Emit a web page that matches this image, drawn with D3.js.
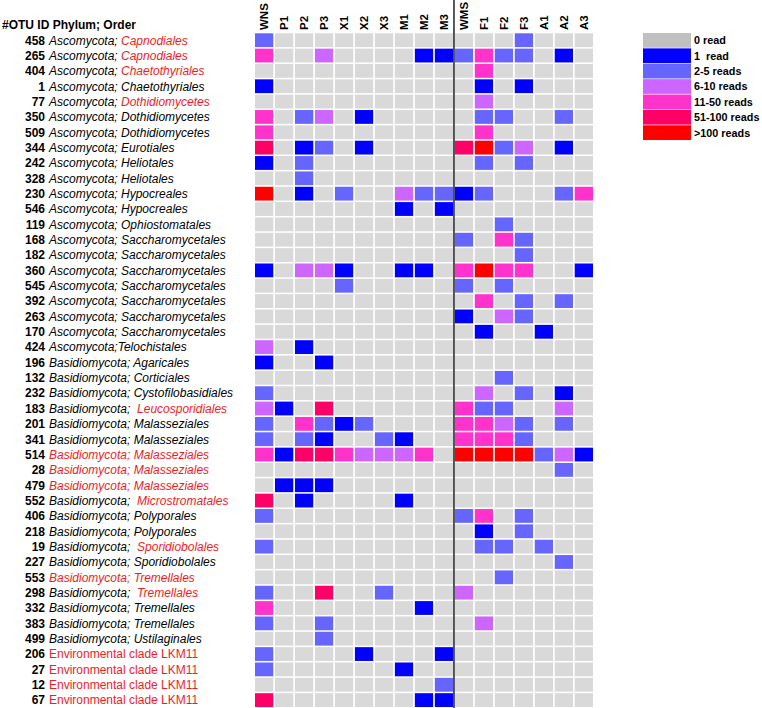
<!DOCTYPE html>
<html>
<head>
<meta charset="utf-8">
<script src="https://cdn.jsdelivr.net/npm/d3@7"></script>
<style>
  html, body { margin: 0; padding: 0; background: #fff; }
  svg { display: block; }
  text { font-family: "Liberation Sans", Arial, sans-serif; }
</style>
</head>
<body>
<svg id="chart" width="762" height="708"></svg>
<script>
// ---------------- data ----------------
const samples = ["WNS","P1","P2","P3","X1","X2","X3","M1","M2","M3","WMS","F1","F2","F3","A1","A2","A3"];

const otuIds = [458,265,404,1,77,350,509,344,242,328,230,546,119,168,182,360,545,392,263,170,
  424,196,132,232,183,201,341,514,28,479,552,406,218,19,227,553,298,332,383,499,206,27,12,67];

const phyla = [
  "Ascomycota; ","Ascomycota; ","Ascomycota; ","Ascomycota; ","Ascomycota; ","Ascomycota; ","Ascomycota; ",
  "Ascomycota; ","Ascomycota; ","Ascomycota; ","Ascomycota; ","Ascomycota; ","Ascomycota; ","Ascomycota; ",
  "Ascomycota; ","Ascomycota; ","Ascomycota; ","Ascomycota; ","Ascomycota; ","Ascomycota; ","Ascomycota;",
  "Basidiomycota; ","Basidiomycota; ","Basidiomycota; ","Basidiomycota;  ","Basidiomycota; ","Basidiomycota; ",
  "Basidiomycota; ","Basidiomycota; ","Basidiomycota; ","Basidiomycota;  ","Basidiomycota; ","Basidiomycota; ",
  "Basidiomycota;  ","Basidiomycota; ","Basidiomycota; ","Basidiomycota;  ","Basidiomycota; ","Basidiomycota; ",
  "Basidiomycota; ","Environmental clade LKM11","Environmental clade LKM11","Environmental clade LKM11","Environmental clade LKM11"];

const orders = [
  "Capnodiales","Capnodiales","Chaetothyriales","Chaetothyriales","Dothidiomycetes","Dothidiomycetes","Dothidiomycetes",
  "Eurotiales","Heliotales","Heliotales","Hypocreales","Hypocreales","Ophiostomatales","Saccharomycetales",
  "Saccharomycetales","Saccharomycetales","Saccharomycetales","Saccharomycetales","Saccharomycetales","Saccharomycetales","Telochistales",
  "Agaricales","Corticiales","Cystofilobasidiales","Leucosporidiales","Malasseziales","Malasseziales",
  "Malasseziales","Malasseziales","Malasseziales","Microstromatales","Polyporales","Polyporales",
  "Sporidiobolales","Sporidiobolales","Tremellales","Tremellales","Tremellales","Tremellales",
  "Ustilaginales","","","",""];

// 0 = none highlighted, 1 = order highlighted, 2 = whole name highlighted
const highlight = [1,1,1,0,1,0,0,0,0,0,0,0,0,0,0,0,0,0,0,0,0,0,0,0,1,0,0,2,2,2,1,0,0,1,0,2,1,0,0,0,2,2,2,2];

const readBins = ["0 read","1  read","2-5 reads","6-10 reads","11-50 reads","51-100 reads",">100 reads"];

// read-count class per OTU (rows) and sample (columns, in `samples` order)
const counts = [
  [2,0,0,0,0,0,0,0,0,0, 0,0,0,2,0,0,0],
  [4,0,0,3,0,0,0,0,1,1, 2,4,2,2,0,1,0],
  [0,0,0,0,0,0,0,0,0,0, 0,4,0,0,0,0,0],
  [1,0,0,0,0,0,0,0,0,0, 0,1,0,1,0,0,0],
  [0,0,0,0,0,0,0,0,0,0, 0,3,0,0,0,0,0],
  [4,0,2,3,0,1,0,0,0,0, 0,2,2,0,0,2,0],
  [4,0,0,0,0,0,0,0,0,0, 0,4,0,0,0,0,0],
  [5,0,1,2,0,1,0,0,0,0, 5,6,2,3,0,1,0],
  [1,0,2,0,0,0,0,0,0,0, 0,2,0,2,0,0,0],
  [0,0,2,0,0,0,0,0,0,0, 0,0,0,0,0,0,0],
  [6,0,1,0,2,0,0,3,2,2, 1,2,0,0,0,2,4],
  [0,0,0,0,0,0,0,1,0,1, 0,0,0,0,0,0,0],
  [0,0,0,0,0,0,0,0,0,0, 0,0,2,0,0,0,0],
  [0,0,0,0,0,0,0,0,0,0, 2,0,4,2,0,0,0],
  [0,0,0,0,0,0,0,0,0,0, 0,0,0,2,0,0,0],
  [1,0,3,3,1,0,0,1,1,0, 4,6,4,4,0,0,1],
  [0,0,0,0,2,0,0,0,0,0, 2,0,2,0,0,0,0],
  [0,0,0,0,0,0,0,0,0,0, 0,4,0,2,0,2,0],
  [0,0,0,0,0,0,0,0,0,0, 1,0,3,2,0,0,0],
  [0,0,0,0,0,0,0,0,0,0, 0,1,0,0,1,0,0],
  [3,0,1,0,0,0,0,0,0,0, 0,0,0,0,0,0,0],
  [1,0,0,1,0,0,0,0,0,0, 0,0,0,0,0,0,0],
  [0,0,0,0,0,0,0,0,0,0, 0,0,2,0,0,0,0],
  [2,0,0,0,0,0,0,0,0,0, 0,3,0,2,0,1,0],
  [3,1,0,5,0,0,0,0,0,0, 4,2,2,0,0,3,0],
  [2,0,4,2,1,2,0,0,0,0, 4,4,3,2,0,2,0],
  [2,0,2,1,0,0,2,1,0,0, 4,4,4,2,0,0,0],
  [4,1,5,5,4,3,3,3,4,0, 6,6,6,6,2,3,1],
  [0,0,0,0,0,0,0,0,0,0, 0,0,0,0,0,2,0],
  [0,1,1,1,0,0,0,0,0,0, 0,0,0,0,0,0,0],
  [5,0,1,0,0,0,0,1,0,0, 0,0,0,0,0,0,0],
  [2,0,0,0,0,0,0,0,0,0, 2,4,0,2,0,0,0],
  [0,0,0,0,0,0,0,0,0,0, 0,1,0,2,0,0,0],
  [2,0,0,0,0,0,0,0,0,0, 0,2,2,0,2,0,0],
  [0,0,0,0,0,0,0,0,0,0, 0,0,0,0,0,2,0],
  [0,0,0,0,0,0,0,0,0,0, 0,0,2,0,0,0,0],
  [2,0,0,5,0,0,2,0,0,0, 3,0,0,0,0,0,0],
  [4,0,0,0,0,0,0,0,1,0, 0,0,0,0,0,0,0],
  [2,0,0,2,0,0,0,0,0,0, 0,3,0,0,0,0,0],
  [0,0,0,2,0,0,0,0,0,0, 0,0,0,0,0,0,0],
  [2,0,0,0,0,1,0,0,0,1, 0,0,0,0,0,0,0],
  [2,0,0,0,0,0,0,1,0,0, 0,0,0,0,0,0,0],
  [0,0,0,0,0,0,0,0,0,2, 0,0,0,0,0,0,0],
  [5,0,0,0,0,0,0,0,1,1, 0,0,0,0,0,0,0]
];

// ---------------- drawing ----------------
const svg = d3.select("#chart");
const RED = "#ee1c24";
const cellColors = ["#d9d9d9","#0000ff","#6666ff","#cc66ff","#ff33cc","#ff0066","#ff0000"];
const legendColors = ["#c0c0c0"].concat(cellColors.slice(1));
const color = d3.scaleOrdinal().domain(d3.range(7)).range(cellColors);

const gridLeft = 255, gridRight = 593, gridTop = 33.3, gridBottom = 707;
const x = d3.scaleBand().domain(samples).range([gridLeft, gridRight]).paddingInner(0.085);
const y = d3.scaleBand().domain(d3.range(otuIds.length)).range([gridTop, gridBottom]).paddingInner(0.1);

// cells
const cells = [];
counts.forEach((row, i) => row.forEach((v, j) => cells.push({ r: i, c: samples[j], v })));
svg.append("g").selectAll("rect").data(cells).join("rect")
  .attr("x", d => x(d.c)).attr("y", d => y(d.r))
  .attr("width", x.bandwidth()).attr("height", y.bandwidth())
  .attr("fill", d => color(d.v));

// column headers
svg.append("g").selectAll("text").data(samples).join("text")
  .attr("transform", d => `translate(${x(d) + x.bandwidth() / 2 + 4},30) rotate(-90)`)
  .attr("text-anchor", "start")
  .attr("font-size", 11.5).attr("font-weight", "bold").attr("fill", "#000")
  .text(d => d);

// separator line
const sepX = x("WMS") - (x.step() - x.bandwidth()) / 2;
svg.append("line").attr("x1", sepX).attr("x2", sepX).attr("y1", 0).attr("y2", 708)
  .attr("stroke", "#222").attr("stroke-width", 1.5);

// title
svg.append("text").attr("x", 2).attr("y", 29)
  .attr("font-size", 12).attr("font-weight", "bold").attr("fill", "#000")
  .text("#OTU ID Phylum; Order");

// row labels
const lab = svg.append("g");
otuIds.forEach((id, i) => {
  const cy = y(i) + y.bandwidth() / 2;
  lab.append("text").attr("x", 45).attr("y", cy).attr("dy", "0.36em")
    .attr("text-anchor", "end").attr("font-size", 12).attr("font-weight", "bold").attr("fill", "#000")
    .text(id);
  const t = lab.append("text").attr("x", 49).attr("y", cy).attr("dy", "0.36em")
    .attr("font-size", 12).style("white-space", "pre");
  const env = orders[i] === "";
  t.append("tspan").attr("font-style", env ? "normal" : "italic")
    .attr("fill", highlight[i] === 2 ? RED : "#000").text(phyla[i]);
  if (!env) {
    t.append("tspan").attr("font-style", "italic")
      .attr("fill", highlight[i] >= 1 ? RED : "#000").text(orders[i]);
  }
});

// legend
const lg = svg.append("g");
const ly = d3.scaleBand().domain(d3.range(readBins.length)).range([33, 140]).paddingInner(0.04);
lg.selectAll("rect").data(readBins).join("rect")
  .attr("x", 643).attr("y", (d, i) => ly(i)).attr("width", 48).attr("height", ly.bandwidth())
  .attr("fill", (d, i) => legendColors[i]);
lg.selectAll("text").data(readBins).join("text")
  .attr("x", 694).attr("y", (d, i) => ly(i) + ly.bandwidth() / 2).attr("dy", "0.36em")
  .attr("font-size", 10.8).attr("font-weight", "bold").attr("fill", "#000")
  .style("white-space", "pre")
  .text(d => d);
</script>
</body>
</html>
